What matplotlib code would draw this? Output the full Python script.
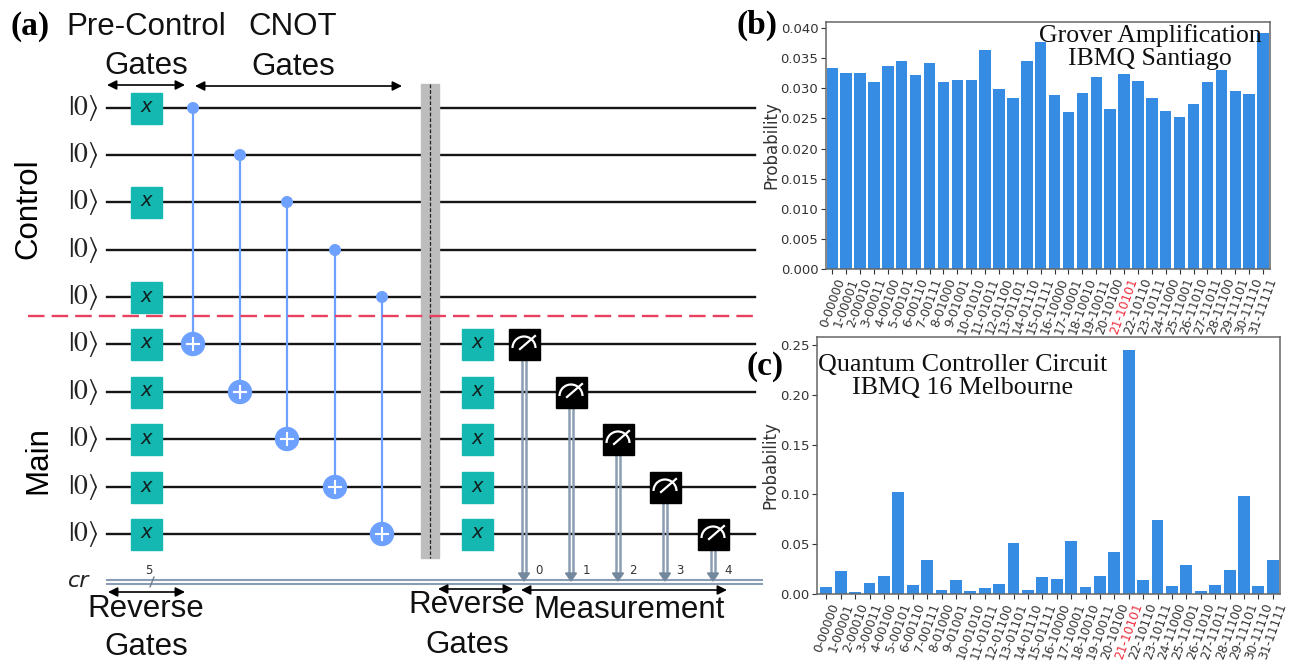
import matplotlib
matplotlib.use('Agg')
import matplotlib.pyplot as plt
from matplotlib.patches import Rectangle, Circle, Arc, Polygon

W = 1296
H = 662

states = ['00000', '00001', '00010', '00011', '00100', '00101', '00110', '00111',
          '01000', '01001', '01010', '01011', '01100', '01101', '01110', '01111',
          '10000', '10001', '10010', '10011', '10100', '10101', '10110', '10111',
          '11000', '11001', '11010', '11011', '11100', '11101', '11110', '11111']
grover = [0.0333, 0.0325, 0.0325, 0.0310, 0.0337, 0.0346, 0.0322, 0.0342,
          0.0310, 0.0314, 0.0314, 0.0364, 0.0298, 0.0284, 0.0346, 0.0376,
          0.0288, 0.0260, 0.0292, 0.0318, 0.0266, 0.0324, 0.0312, 0.0284,
          0.0262, 0.0252, 0.0274, 0.0310, 0.0330, 0.0296, 0.0290, 0.0391]
melbourne = [0.007, 0.023, 0.002, 0.011, 0.018, 0.102, 0.009, 0.034,
             0.004, 0.014, 0.003, 0.006, 0.010, 0.051, 0.004, 0.017,
             0.015, 0.053, 0.007, 0.018, 0.042, 0.245, 0.014, 0.074,
             0.008, 0.029, 0.003, 0.009, 0.024, 0.098, 0.008, 0.034]
grover_ticks = [0.000, 0.005, 0.010, 0.015, 0.020, 0.025, 0.030, 0.035, 0.040]
melbourne_ticks = [0.00, 0.05, 0.10, 0.15, 0.20, 0.25]

# circuit layout, in pixels of the picture
wire_y = [108, 155, 202, 250, 297, 344, 392, 439, 487, 534]
pre_x_wires = [0, 2, 4, 5, 6, 7, 8, 9]
rev_x_wires = [5, 6, 7, 8, 9]
cnot_x = [193, 240, 287, 335, 382]
meas_x = [524, 571, 618, 665, 713]

plt.rcParams['font.family'] = ['Liberation Sans', 'DejaVu Sans']
plt.rcParams['mathtext.fontset'] = 'stix'

BLUE = '#6ea1ff'
TEAL = '#15b8b0'
CLS = '#8a9db3'
BAR = '#368ce3'
SANS = 'Liberation Sans'
SERIF = 'Liberation Serif'


def arrow(ax, x1, x2, y):
    ax.annotate('', xy=(x2, y), xytext=(x1, y),
                arrowprops=dict(arrowstyle='<|-|>', color='black', lw=1.2,
                                mutation_scale=14, shrinkA=0, shrinkB=0))


def x_gate(ax, x, y):
    ax.add_patch(Rectangle((x - 15.5, y - 15.5), 31, 31, color=TEAL, zorder=5))
    ax.text(x, y - 1, 'x', fontsize=14, style='italic', family='DejaVu Sans',
            ha='center', va='center', color='#102020', zorder=6)


def measure(ax, x, y, bottom):
    ax.plot([x - 1.6, x - 1.6], [y, bottom - 6], color=CLS, lw=1.8, zorder=3)
    ax.plot([x + 1.6, x + 1.6], [y, bottom - 6], color=CLS, lw=1.8, zorder=3)
    ax.add_patch(Polygon([(x - 5.5, bottom - 8), (x + 5.5, bottom - 8), (x, bottom)],
                         color='#73879d', zorder=4))
    ax.add_patch(Rectangle((x - 15.5, y - 15.5), 31, 31, color='black', zorder=5))
    ax.add_patch(Arc((x, y + 4), 23, 23, theta1=180, theta2=360, color='white',
                     lw=1.6, zorder=6))
    ax.plot([x - 4, x + 11], [y + 5, y - 8], color='white', lw=1.6, zorder=6)


def draw_circuit(ax):
    for i, y in enumerate(wire_y):
        ax.plot([107, 755], [y, y], color='#151515', lw=1.7, zorder=1)
        ax.text(83, y, r'$|0\rangle$', fontsize=20, ha='center', va='center',
                color='#222222')
    for i in pre_x_wires:
        x_gate(ax, 146, wire_y[i])
    for i in rev_x_wires:
        x_gate(ax, 477, wire_y[i])
    for i, x in enumerate(cnot_x):
        ya = wire_y[i]
        yb = wire_y[i + 5]
        ax.plot([x, x], [ya, yb], color=BLUE, lw=1.6, zorder=2)
        ax.add_patch(Circle((x, ya), 5.3, color=BLUE, zorder=3))
        ax.add_patch(Circle((x, yb), 11.5, color=BLUE, zorder=3))
        ax.plot([x - 6, x + 6], [yb, yb], color='white', lw=1.5, zorder=4)
        ax.plot([x, x], [yb - 6, yb + 6], color='white', lw=1.5, zorder=4)

    # barrier
    ax.add_patch(Rectangle((421, 84), 18, 474, color='#bdbdbd', zorder=6))
    ax.plot([430, 430], [84, 558], color='#222222', lw=0.9, ls=(0, (3, 1.5)), zorder=7)
    ax.plot([28, 755], [316, 316], color='#e8405f', lw=1.7, ls=(0, (7, 3)), zorder=8)

    # classical register
    ax.plot([107, 762], [580, 580], color=CLS, lw=1.5, zorder=2)
    ax.plot([107, 762], [583.5, 583.5], color=CLS, lw=1.5, zorder=2)
    ax.plot([150, 154], [587, 577], color='#667788', lw=0.9, zorder=3)
    ax.text(149, 571, '5', fontsize=8.5, family='DejaVu Sans', ha='center',
            va='center', color='#333333')
    for i, x in enumerate(meas_x):
        measure(ax, x, wire_y[i + 5], 581)
        ax.text(x + 15, 571, str(i), fontsize=8.5, family='DejaVu Sans',
                ha='center', va='center', color='#333333')
    ax.text(79, 581, 'cr', fontsize=16, style='italic', family='DejaVu Sans',
            ha='center', va='center', color='#222222')

    arrow(ax, 107, 185, 85)
    arrow(ax, 195, 402, 86)
    arrow(ax, 108, 185, 592)
    arrow(ax, 438, 513, 589)
    arrow(ax, 521, 727, 590)

    labels = [('Pre-Control', 146, 27), ('Gates', 146, 66), ('CNOT', 293, 27),
              ('Gates', 293, 67), ('Reverse', 146, 609), ('Gates', 146, 647),
              ('Reverse', 467, 605), ('Gates', 467, 645), ('Measurement', 629, 610)]
    for s, x, y in labels:
        ax.text(x, y, s, fontsize=22.5, family=SANS, ha='center', va='center', color='#111111')
    ax.text(28, 209, 'Control', fontsize=22.5, family=SANS, rotation=90, ha='center', va='center')
    ax.text(38, 460, 'Main', fontsize=22.5, family=SANS, rotation=90, ha='center', va='center')

    ax.text(10, 26, '(a)', fontsize=24, family=SERIF, weight='bold', ha='left', va='center')
    ax.text(737, 25, '(b)', fontsize=24, family=SERIF, weight='bold', ha='left', va='center')
    ax.text(746, 367, '(c)', fontsize=24, family=SERIF, weight='bold', ha='left', va='center')


def bar_panel(box, values, ticks, fmt, ymax, xlim):
    left, top, right, bottom = box
    ax = fig.add_axes([left / W, 1 - bottom / H, (right - left) / W, (bottom - top) / H])
    ax.bar(range(len(values)), values, width=0.82, color=BAR)
    ax.set_xlim(*xlim)
    ax.set_ylim(0, ymax)
    ax.set_yticks(ticks)
    ax.set_yticklabels([fmt % t for t in ticks], fontsize=9.5, family='DejaVu Sans', color='#333333')
    names = ['%d-%s' % (i, s) for i, s in enumerate(states)]
    ax.set_xticks(range(len(values)))
    ax.set_xticklabels(names, fontsize=8.8, rotation=70, family='DejaVu Sans', color='#333333')
    ax.get_xticklabels()[21].set_color('#ee2b3b')
    ax.tick_params(length=3.5, width=0.8, pad=2, color='#333333')
    ax.set_ylabel('Probability', fontsize=12, family='DejaVu Sans', color='#333333', labelpad=0)
    for s in ax.spines.values():
        s.set_color('#666666')
        s.set_linewidth(1.1)
    return ax


fig = plt.figure(figsize=(W / 100, H / 100), dpi=100)
canvas = fig.add_axes([0, 0, 1, 1])
canvas.set_xlim(0, W)
canvas.set_ylim(H, 0)
canvas.axis('off')
draw_circuit(canvas)

ax_b = bar_panel((826, 22, 1270, 269), grover, grover_ticks, '%.3f', 0.041, (-0.45, 31.5))
ax_c = bar_panel((817, 337, 1280, 594), melbourne, melbourne_ticks, '%.2f', 0.258, (-0.65, 31.5))

ax_b.text(0.73, 0.947, 'Grover Amplification', transform=ax_b.transAxes, fontsize=18.5,
          family=SERIF, ha='center', va='center', color='#111111')
ax_b.text(0.73, 0.852, 'IBMQ Santiago', transform=ax_b.transAxes, fontsize=18.5,
          family=SERIF, ha='center', va='center', color='#111111')
ax_c.text(0.315, 0.89, 'Quantum Controller Circuit', transform=ax_c.transAxes, fontsize=18.7,
          family=SERIF, ha='center', va='center', color='#111111')
ax_c.text(0.315, 0.802, 'IBMQ 16 Melbourne', transform=ax_c.transAxes, fontsize=18.7,
          family=SERIF, ha='center', va='center', color='#111111')

fig.savefig('out.png', dpi=100)
